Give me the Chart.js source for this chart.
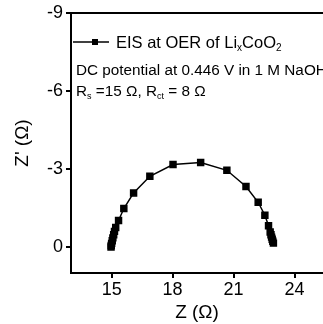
<!DOCTYPE html>
<html>
<head>
<meta charset="utf-8">
<script src="https://cdn.jsdelivr.net/npm/chart.js@4.4.0/dist/chart.umd.min.js"></script>
<style>
  html, body { margin: 0; padding: 0; background: #fff; overflow: hidden; }
  #wrap { width: 323px; height: 324px; position: relative; }
</style>
</head>
<body>
<div id="wrap"><canvas id="eisChart"></canvas></div>
<script>
const zReal = [14.97, 14.98, 15.0, 15.03, 15.06, 15.1, 15.14, 15.2, 15.34, 15.6, 16.08, 16.88, 18.02, 19.38,
               20.67, 21.61, 22.21, 22.54, 22.72, 22.8, 22.84, 22.87, 22.9, 22.93, 22.96];
const zImag = [0.0, -0.06, -0.14, -0.24, -0.35, -0.47, -0.6, -0.75, -1.02, -1.48, -2.08, -2.72, -3.17, -3.25,
               -2.95, -2.33, -1.72, -1.22, -0.82, -0.58, -0.47, -0.38, -0.3, -0.22, -0.15];
const xTicks = [15, 18, 21, 24];
const yTicks = [-9, -6, -3, 0];

const points = zReal.map((x, i) => ({ x: x, y: zImag[i] }));

const FONT = '"Liberation Sans", Arial, sans-serif';

// draws the frame top, the legend line and the text notes
const notesPlugin = {
    id: 'notes',
    afterDraw(chart) {
        const ctx = chart.ctx;
        const a = chart.chartArea;
        ctx.save();
        ctx.strokeStyle = '#000';
        ctx.lineWidth = 2;
        ctx.beginPath();
        ctx.moveTo(a.left - 1, a.top);
        ctx.lineTo(a.right, a.top);
        ctx.stroke();

        // legend
        const ly = a.top + 29;
        ctx.lineWidth = 1.5;
        ctx.beginPath();
        ctx.moveTo(a.left + 2, ly);
        ctx.lineTo(a.left + 38, ly);
        ctx.stroke();
        ctx.fillStyle = '#000';
        ctx.fillRect(a.left + 21, ly - 3, 6, 6);

        ctx.textBaseline = 'alphabetic';
        let x = a.left + 45;
        function seg(txt, size, dy) {
            ctx.font = size + 'px ' + FONT;
            ctx.fillText(txt, x, dy);
            x += ctx.measureText(txt).width;
        }
        const by = ly + 6;
        seg('EIS at OER of Li', 16.5, by);
        seg('x', 10, by + 3);
        seg('CoO', 16.5, by);
        seg('2', 10, by + 3);

        x = a.left + 5;
        seg('DC potential at 0.446 V in 1 M NaOH', 15.3, a.top + 62);

        x = a.left + 5;
        const ry = a.top + 83;
        seg('R', 15.3, ry);
        seg('s', 9, ry + 3);
        seg(' =15 \u03A9, R', 15.3, ry);
        seg('ct', 9, ry + 3);
        seg(' = 8 \u03A9', 15.3, ry);
        ctx.restore();
    }
};

new Chart(document.getElementById('eisChart').getContext('2d'), {
    type: 'line',
    data: {
        datasets: [{
            label: 'EIS at OER of LixCoO2',
            data: points,
            borderColor: '#000',
            backgroundColor: '#000',
            borderWidth: 1.5,
            pointStyle: 'rect',
            pointRadius: 4.2,
            pointHoverRadius: 4.2,
            tension: 0,
            fill: false
        }]
    },
    options: {
        responsive: true,
        maintainAspectRatio: false,
        animation: false,
        layout: { autoPadding: false, padding: { top: 13, right: 0, left: 0, bottom: 0 } },
        plugins: {
            legend: { display: false },
            tooltip: { enabled: false }
        },
        scales: {
            x: {
                type: 'linear',
                min: 13,
                max: 25.4,
                afterBuildTicks: s => { s.ticks = xTicks.map(v => ({ value: v })); },
                afterFit: s => { s.height = 51; s.paddingRight = 0; },
                border: { color: '#000', width: 2 },
                grid: { drawOnChartArea: false, color: '#000', tickLength: 5, lineWidth: 2 },
                ticks: { color: '#000', font: { family: FONT, size: 18 }, padding: 1, maxRotation: 0 },
                title: { display: true, text: 'Z (\u03A9)', color: '#000', font: { family: FONT, size: 19 }, padding: 0 }
            },
            y: {
                type: 'linear',
                reverse: true,
                min: -9,
                max: 1,
                afterBuildTicks: s => { s.ticks = yTicks.map(v => ({ value: v })); },
                afterFit: s => { s.width = 71; s.paddingTop = 0; },
                border: { color: '#000', width: 2 },
                grid: { drawOnChartArea: false, color: '#000', tickLength: 5, lineWidth: 2 },
                ticks: { color: '#000', font: { family: FONT, size: 18 }, padding: 3 },
                title: { display: true, text: "Z' (\u03A9)", color: '#000', font: { family: FONT, size: 19 }, padding: { top: 11, bottom: 0 } }
            }
        }
    },
    plugins: [notesPlugin]
});
</script>
</body>
</html>
